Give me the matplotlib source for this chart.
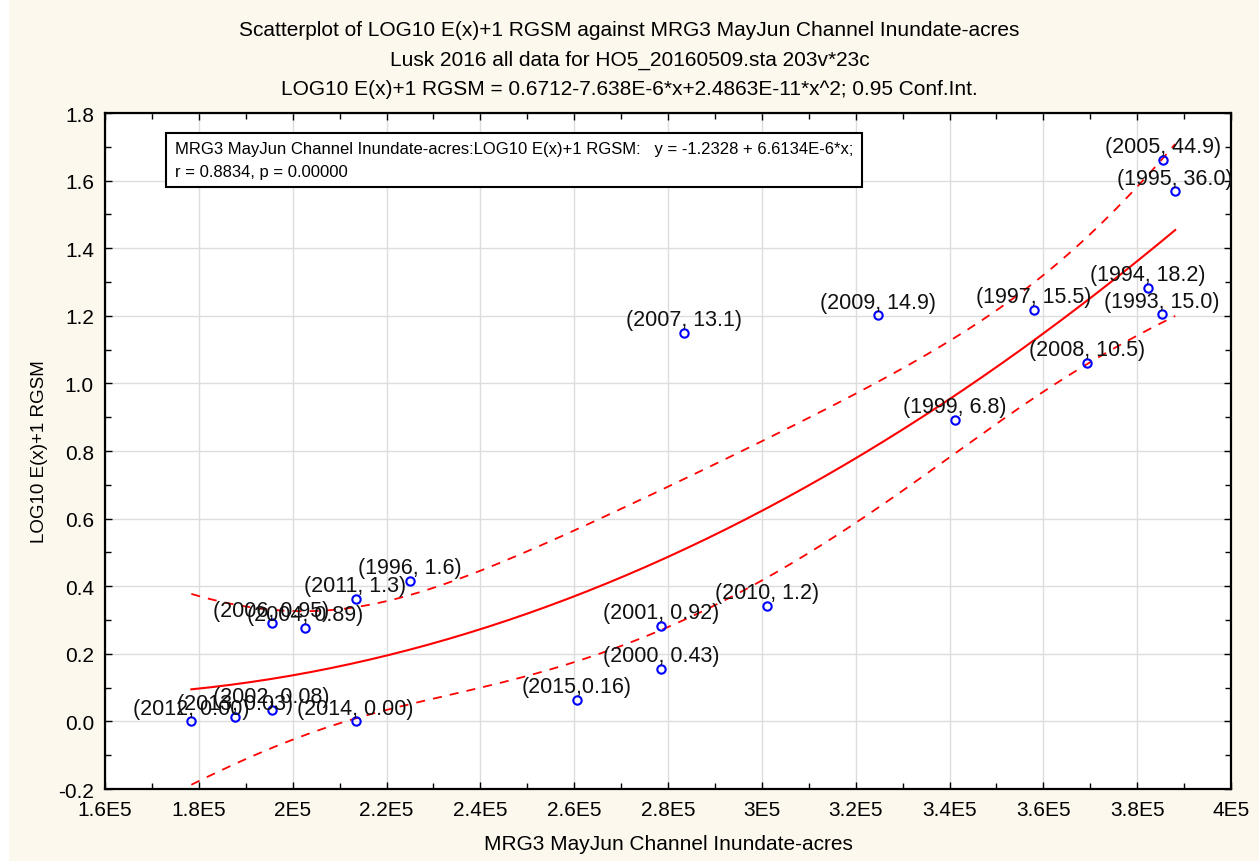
import numpy as np
import matplotlib
matplotlib.use("Agg")
import matplotlib.pyplot as plt
from matplotlib import font_manager as fm
from matplotlib.patches import Rectangle

# data
years = [2012, 2013, 2002, 2006, 2004, 2014, 2011, 1996, 2015, 2000, 2001,
         2010, 2007, 2009, 1999, 1997, 2008, 1994, 1993, 2005, 1995]
acres = [178400, 187700, 195500, 195500, 202700, 213400, 213400, 224900,
         260600, 278600, 278600, 301100, 283400, 324800, 341200, 357900,
         369400, 382200, 385200, 385600, 388100]
rgsm = [0.000, 0.0128, 0.0334, 0.290, 0.276, 0.000, 0.362, 0.415,
        0.0645, 0.155, 0.283, 0.342, 1.149, 1.201, 0.892, 1.217,
        1.061, 1.283, 1.204, 1.662, 1.568]
value_labels = ["0.00", "0.03", "0.08", "0.95", "0.89", "0.00", "1.3", "1.6",
                "0.16", "0.43", "0.92", "1.2", "13.1", "14.9", "6.8", "15.5",
                "10.5", "18.2", "15.0", "44.9", "36.0"]

xticks = [160000, 180000, 200000, 220000, 240000, 260000, 280000, 300000,
          320000, 340000, 360000, 380000, 400000]
xtick_labels = ["1.6E5", "1.8E5", "2E5", "2.2E5", "2.4E5", "2.6E5", "2.8E5",
                "3E5", "3.2E5", "3.4E5", "3.6E5", "3.8E5", "4E5"]
yticks = [-0.2, 0.0, 0.2, 0.4, 0.6, 0.8, 1.0, 1.2, 1.4, 1.6, 1.8]

names = {f.name for f in fm.fontManager.ttflist}
narrow = "Liberation Sans Narrow" if "Liberation Sans Narrow" in names else "Liberation Sans"
plt.rcParams["font.family"] = ["Liberation Sans", "DejaVu Sans"]

x = np.array(acres, dtype=float)
y = np.array(rgsm)

# quadratic fit with 95% confidence band of the mean
X = np.column_stack([np.ones_like(x), x, x ** 2])
beta, *_ = np.linalg.lstsq(X, y, rcond=None)
resid = y - X @ beta
n = len(x)
s2 = resid @ resid / (n - 3)
cov = s2 * np.linalg.inv(X.T @ X)
xs = np.linspace(x.min(), x.max(), 200)
Xs = np.column_stack([np.ones_like(xs), xs, xs ** 2])
fit = Xs @ beta
se = np.sqrt(np.einsum("ij,jk,ik->i", Xs, cov, Xs))
t = 2.1009  # t(0.975, 18)

bg = "#fdf8ee"
fig = plt.figure(figsize=(12.59, 8.62), dpi=100, facecolor=bg)
fig.patches.append(Rectangle((0, 0), 9 / 1259, 1, transform=fig.transFigure,
                             fc="white", ec="none", zorder=0))
ax = fig.add_axes([0.0834, 0.0835, 0.8944, 0.7842])
ax.set_facecolor("white")

ax.plot(xs, fit, color="red", lw=1.5, zorder=2)
ax.plot(xs, fit + t * se, color="red", lw=1.3, ls=(0, (5, 4.5)), zorder=2)
ax.plot(xs, fit - t * se, color="red", lw=1.3, ls=(0, (5, 4.5)), zorder=2)

ax.plot(x, y, "o", ms=6, mfc="none", mec="blue", mew=1.5, zorder=3)
for yr, xi, yi, lab in zip(years, x, y, value_labels):
    sep = "," if yr == 2015 else ", "
    ax.annotate(f"({yr}{sep}{lab})", (xi, yi), xytext=(0, 2),
                textcoords="offset points", ha="center", va="bottom",
                fontsize=15.5, color="#111111", zorder=4)

ax.set_xlim(160000, 400000)
ax.set_ylim(-0.2, 1.8)
ax.set_xticks(xticks)
ax.set_xticklabels(xtick_labels)
ax.set_xticks([v + 10000 for v in xticks[:-1]], minor=True)
ax.set_yticks(yticks)
ax.set_yticklabels([f"{v:.1f}" for v in yticks])
ax.set_yticks([v + 0.1 for v in yticks[:-1]], minor=True)
ax.tick_params(which="both", direction="in", top=True, right=True,
               labelsize=15, length=5, width=1, pad=8)
ax.tick_params(which="minor", length=4)
ax.grid(True, which="major", color="#dddddd", lw=1)
ax.set_axisbelow(True)
for sp in ax.spines.values():
    sp.set_linewidth(1.6)

ax.set_xlabel("MRG3 MayJun Channel Inundate-acres", family=narrow,
              fontsize=15, labelpad=11)
ax.set_ylabel("LOG10 E(x)+1 RGSM", family=narrow, fontsize=13.5, labelpad=7)

title = ("Scatterplot of LOG10 E(x)+1 RGSM against MRG3 MayJun Channel Inundate-acres\n"
         "Lusk 2016 all data for HO5_20160509.sta 203v*23c\n"
         "LOG10 E(x)+1 RGSM = 0.6712-7.638E-6*x+2.4863E-11*x^2; 0.95 Conf.Int.")
fig.text(0.5, 1 - 21 / 862, title, ha="center", va="top", family=narrow,
         fontsize=15, linespacing=1.7)

ax.text(0.062, 0.958,
        "MRG3 MayJun Channel Inundate-acres:LOG10 E(x)+1 RGSM:   y = -1.2328 + 6.6134E-6*x;\n"
        "r = 0.8834, p = 0.00000",
        transform=ax.transAxes, ha="left", va="top", fontsize=12,
        linespacing=1.6, zorder=5,
        bbox=dict(boxstyle="square,pad=0.5", fc="white", ec="black", lw=1.5))

fig.savefig("out.png", dpi=100, facecolor=bg)
